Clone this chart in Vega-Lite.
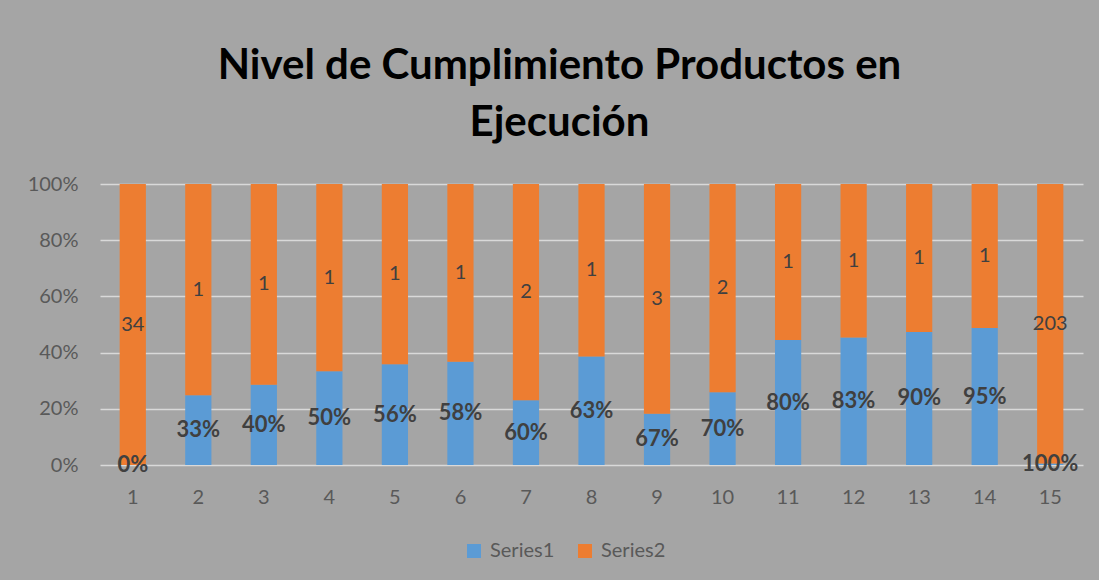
{
  "$schema": "https://vega.github.io/schema/vega-lite/v6.json",
  "width": 983,
  "height": 281,
  "autosize": {"type": "none"},
  "padding": {"left": 100, "top": 184, "right": 16, "bottom": 115},
  "background": "#a5a5a5",
  "title": {
    "text": ["Nivel de Cumplimiento Productos en", "Ejecución"],
    "anchor": "middle",
    "frame": "group",
    "dx": -32,
    "fontSize": 42,
    "lineHeight": 57,
    "font": "Lato",
    "fontWeight": "bold",
    "color": "#000000",
    "offset": 29
  },
  "data": {
    "values": [
      {"cat": 1, "series": "Series1", "value": 0},
      {"cat": 2, "series": "Series1", "value": 0.33},
      {"cat": 3, "series": "Series1", "value": 0.40},
      {"cat": 4, "series": "Series1", "value": 0.50},
      {"cat": 5, "series": "Series1", "value": 0.56},
      {"cat": 6, "series": "Series1", "value": 0.58},
      {"cat": 7, "series": "Series1", "value": 0.60},
      {"cat": 8, "series": "Series1", "value": 0.63},
      {"cat": 9, "series": "Series1", "value": 0.67},
      {"cat": 10, "series": "Series1", "value": 0.70},
      {"cat": 11, "series": "Series1", "value": 0.80},
      {"cat": 12, "series": "Series1", "value": 0.83},
      {"cat": 13, "series": "Series1", "value": 0.90},
      {"cat": 14, "series": "Series1", "value": 0.95},
      {"cat": 15, "series": "Series1", "value": 1.00},
      {"cat": 1, "series": "Series2", "value": 34},
      {"cat": 2, "series": "Series2", "value": 1},
      {"cat": 3, "series": "Series2", "value": 1},
      {"cat": 4, "series": "Series2", "value": 1},
      {"cat": 5, "series": "Series2", "value": 1},
      {"cat": 6, "series": "Series2", "value": 1},
      {"cat": 7, "series": "Series2", "value": 2},
      {"cat": 8, "series": "Series2", "value": 1},
      {"cat": 9, "series": "Series2", "value": 3},
      {"cat": 10, "series": "Series2", "value": 2},
      {"cat": 11, "series": "Series2", "value": 1},
      {"cat": 12, "series": "Series2", "value": 1},
      {"cat": 13, "series": "Series2", "value": 1},
      {"cat": 14, "series": "Series2", "value": 1},
      {"cat": 15, "series": "Series2", "value": 203}
    ]
  },
  "transform": [
    {"stack": "value", "groupby": ["cat"], "sort": [{"field": "series", "order": "ascending"}], "offset": "normalize", "as": ["y0", "y1"]},
    {"calculate": "(datum.y0 + datum.y1) / 2", "as": "ymid"}
  ],
  "encoding": {
    "x": {
      "field": "cat",
      "type": "ordinal",
      "title": null,
      "scale": {"paddingInner": 0.6, "paddingOuter": 0.3},
      "axis": {"labelAngle": 0, "domain": false, "ticks": false, "labelPadding": 22, "labelFontSize": 20, "labelColor": "#595959", "labelFont": "Lato"}
    }
  },
  "layer": [
    {
      "mark": {"type": "bar"},
      "encoding": {
        "y": {
          "field": "y0",
          "type": "quantitative",
          "title": null,
          "scale": {"domain": [0, 1]},
          "axis": {"format": "%", "values": [0, 0.2, 0.4, 0.6, 0.8, 1], "domain": false, "ticks": false, "labelPadding": 22, "labelFontSize": 20, "labelColor": "#595959", "labelFont": "Lato", "grid": true, "gridColor": "#d9d9d9", "gridWidth": 1.5}
        },
        "y2": {"field": "y1"},
        "color": {
          "field": "series",
          "type": "nominal",
          "title": null,
          "scale": {"domain": ["Series1", "Series2"], "range": ["#5b9bd5", "#ed7d31"]},
          "legend": {"orient": "none", "legendX": 364, "legendY": 357, "direction": "horizontal", "symbolType": "square", "symbolSize": 196, "symbolStrokeWidth": 0, "labelFontSize": 20, "labelColor": "#595959", "labelFont": "Lato", "labelOffset": 6, "columnPadding": 20}
        }
      }
    },
    {
      "transform": [{"filter": "datum.series === 'Series1'"}],
      "mark": {"type": "text", "fontSize": 22, "fontWeight": "bold", "font": "Lato", "color": "#404040", "baseline": "middle"},
      "encoding": {
        "y": {"field": "ymid", "type": "quantitative"},
        "text": {"field": "value", "type": "quantitative", "format": ".0%"}
      }
    },
    {
      "transform": [{"filter": "datum.series === 'Series2'"}],
      "mark": {"type": "text", "fontSize": 20, "font": "Lato", "color": "#404040", "baseline": "middle"},
      "encoding": {
        "y": {"field": "ymid", "type": "quantitative"},
        "text": {"field": "value", "type": "quantitative", "format": "d"}
      }
    }
  ],
  "config": {"view": {"stroke": null}}
}
